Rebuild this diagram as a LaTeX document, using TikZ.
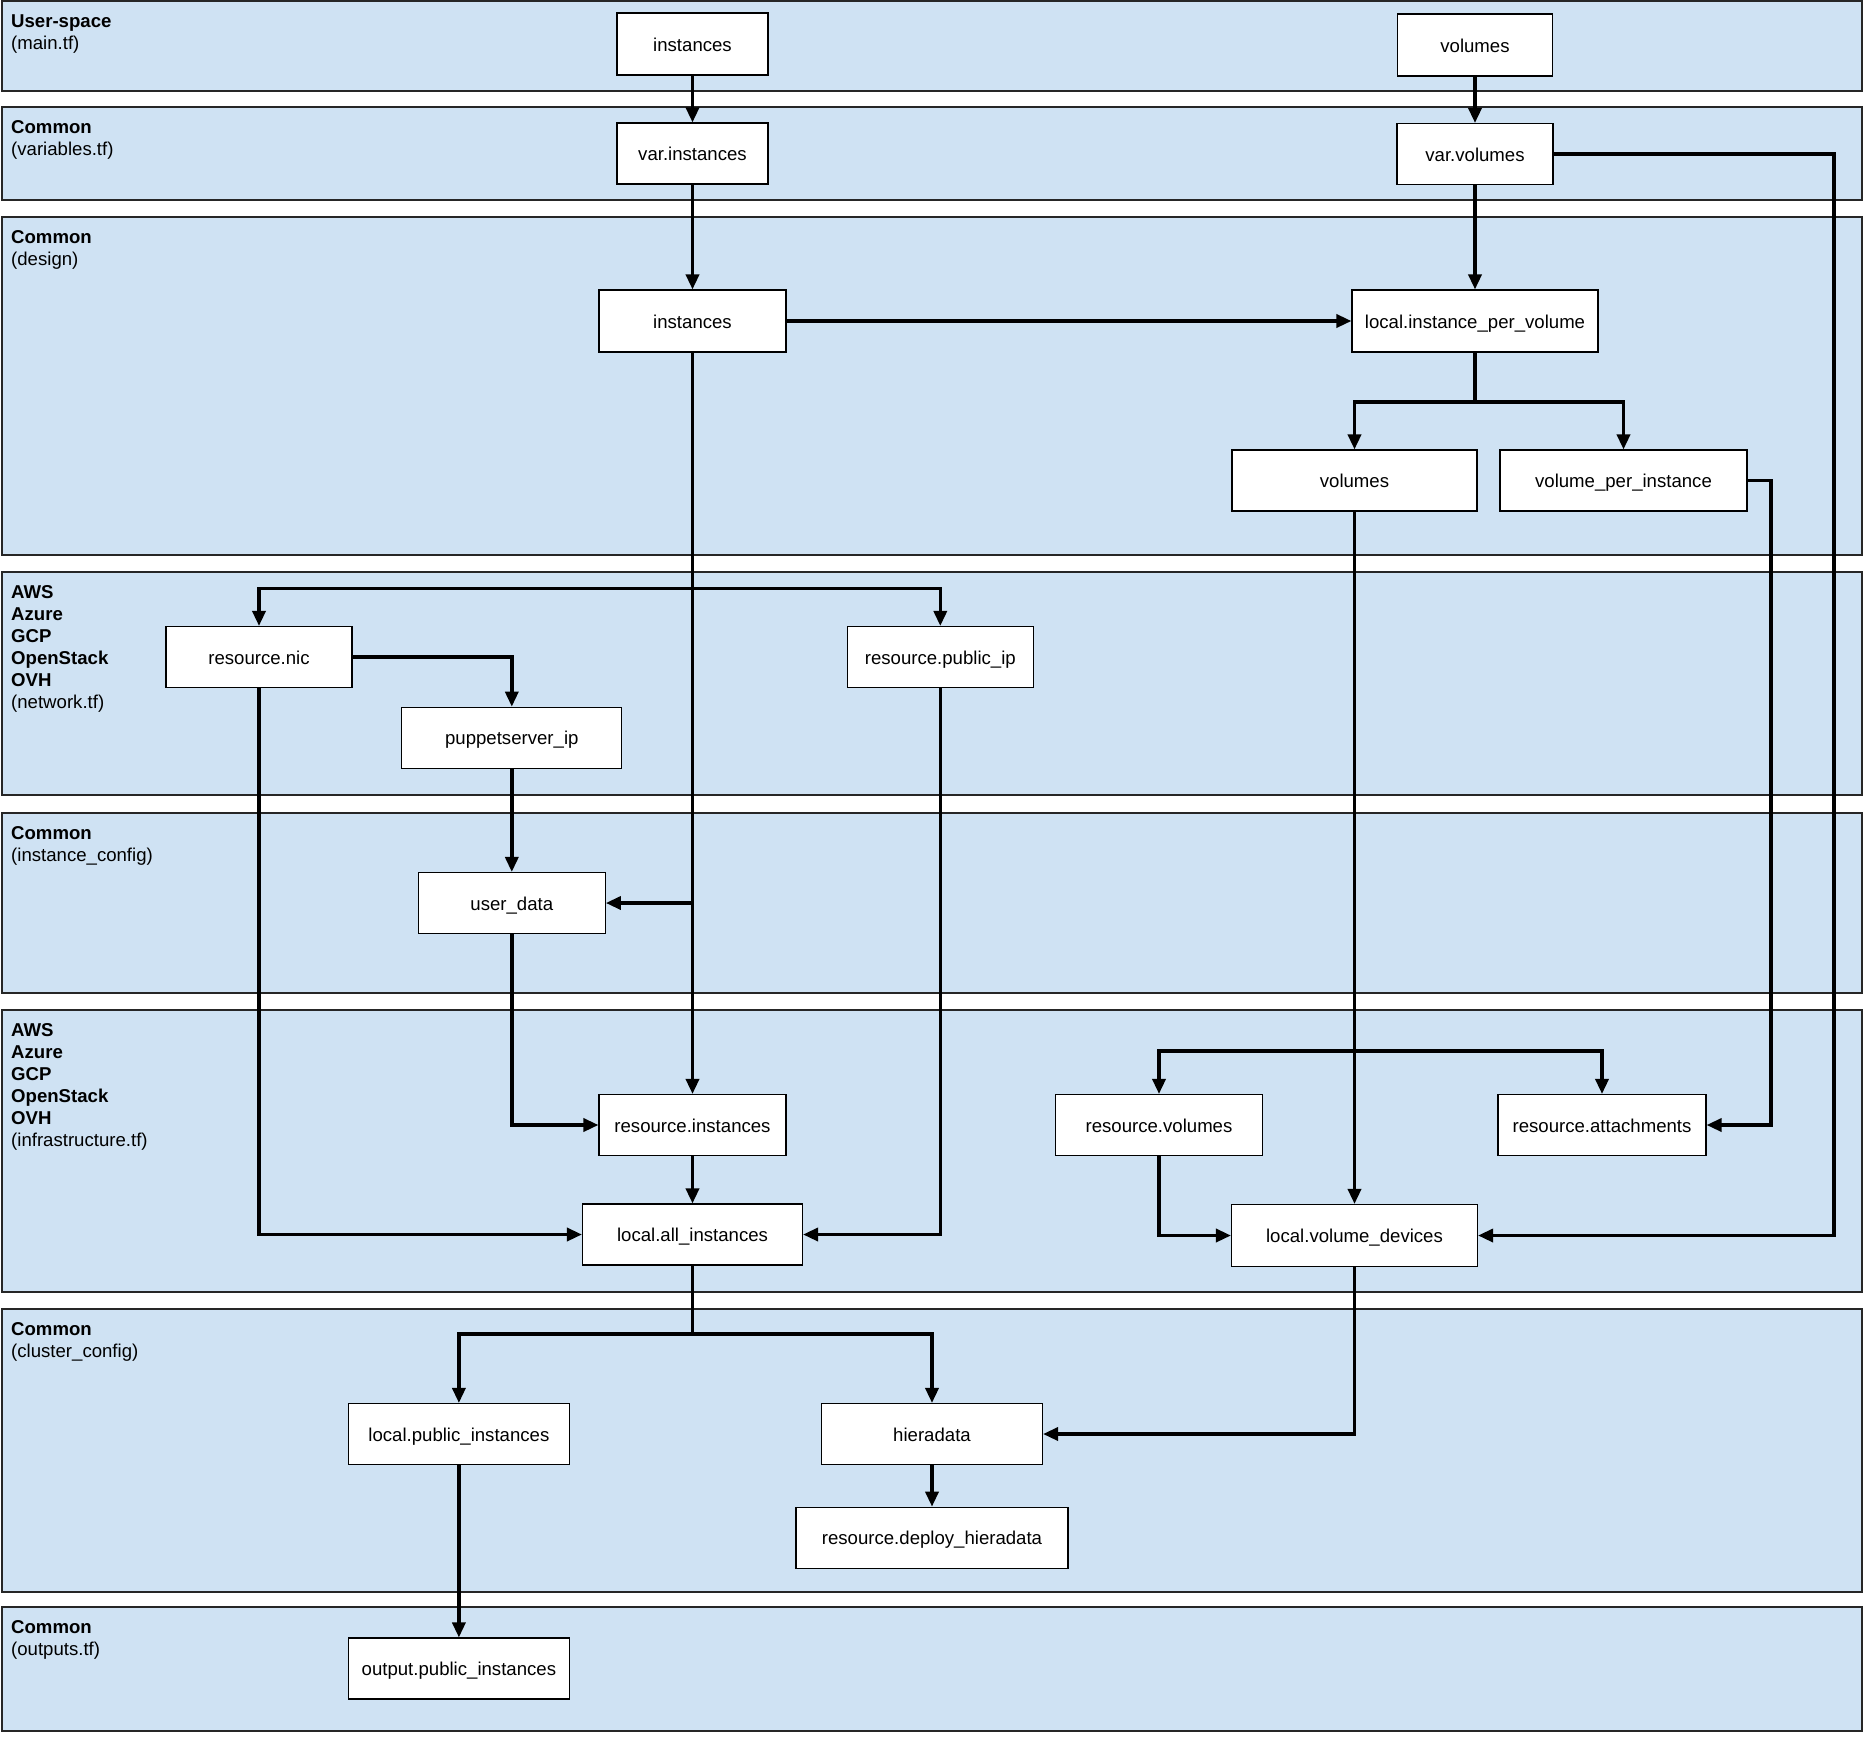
\documentclass[tikz,border=0pt]{standalone}
\usepackage{fontspec}
\setmainfont{Liberation Sans}
\usetikzlibrary{arrows.meta}
\definecolor{bandblue}{RGB}{207,226,243}
\newcommand{\nodefnt}{\fontsize{18.6}{22}\selectfont}
\newcommand{\lblfnt}{\fontsize{18.6}{22}\selectfont}
\begin{document}
\begin{tikzpicture}[x=1pt,y=-1pt,
  band/.style={draw=black!85, line width=1.3pt, fill=bandblue},
  box/.style={draw=black, line width=1.1pt, fill=white, inner sep=0pt, font=\nodefnt, text height=19pt, text depth=4.6pt},
  arr/.style={line width=3.4pt, -{Triangle[length=15pt,width=13pt]}},
  lbl/.style={anchor=north west, inner sep=0pt, align=left, font=\lblfnt}]
\useasboundingbox (0,0) rectangle (1864,1738);
\fill[white] (0,0) rectangle (1864,1738);
% bands
\draw[band] (2,1) rectangle (1862,91);
\draw[band] (2,107) rectangle (1862,200);
\draw[band] (2,217) rectangle (1862,555);
\draw[band] (2,572) rectangle (1862,795);
\draw[band] (2,813) rectangle (1862,993);
\draw[band] (2,1010) rectangle (1862,1292);
\draw[band] (2,1309) rectangle (1862,1592);
\draw[band] (2,1607) rectangle (1862,1731);
% band labels
\node[lbl] (L1) at (11,11.5) {\textbf{\strut User-space}\\(main.tf)};
\node[lbl] (L2) at (11,117.5) {\textbf{\strut Common}\\(variables.tf)};
\node[lbl] (L3) at (11,227.5) {\textbf{\strut Common}\\(design)};
\node[lbl] (L4) at (11,582.5) {\textbf{\strut AWS}\\\textbf{Azure}\\\textbf{GCP}\\\textbf{OpenStack}\\\textbf{OVH}\\(network.tf)};
\node[lbl] (L5) at (11,823.5) {\textbf{\strut Common}\\(instance\_config)};
\node[lbl] (L6) at (11,1020.5) {\textbf{\strut AWS}\\\textbf{Azure}\\\textbf{GCP}\\\textbf{OpenStack}\\\textbf{OVH}\\(infrastructure.tf)};
\node[lbl] (L7) at (11,1319.5) {\textbf{\strut Common}\\(cluster\_config)};
\node[lbl] (L8) at (11,1617.5) {\textbf{\strut Common}\\(outputs.tf)};
% nodes
\node[box, minimum width=151pt, minimum height=62pt] (inst0) at (692.5,44) {instances};
\node[box, minimum width=155pt, minimum height=62pt] (vol0) at (1475,45) {volumes};
\node[box, minimum width=151pt, minimum height=61pt] (varinst) at (692.5,153.5) {var.instances};
\node[box, minimum width=156pt, minimum height=61pt] (varvol) at (1475,154) {var.volumes};
\node[box, minimum width=187pt, minimum height=62pt] (inst1) at (692.5,321) {instances};
\node[box, minimum width=246pt, minimum height=62pt] (lipv) at (1475,321) {local.instance\_per\_volume};
\node[box, minimum width=245pt, minimum height=61pt] (vol1) at (1354.5,480.5) {volumes};
\node[box, minimum width=247pt, minimum height=61pt] (vpi) at (1623.5,480.5) {volume\_per\_instance};
\node[box, minimum width=186pt, minimum height=61pt] (nic) at (259,657) {resource.nic};
\node[box, minimum width=186pt, minimum height=61pt] (pubip) at (940.3,657) {resource.public\_ip};
\node[box, minimum width=220pt, minimum height=61pt] (pip) at (511.8,737.7) {puppetserver\_ip};
\node[box, minimum width=187pt, minimum height=61pt] (udata) at (511.8,903) {user\_data};
\node[box, minimum width=187pt, minimum height=61pt] (rinst) at (692.5,1125) {resource.instances};
\node[box, minimum width=207pt, minimum height=61pt] (rvol) at (1159,1125) {resource.volumes};
\node[box, minimum width=208pt, minimum height=61pt] (ratt) at (1602,1125) {resource.attachments};
\node[box, minimum width=220pt, minimum height=61pt] (lall) at (692.5,1234.5) {local.all\_instances};
\node[box, minimum width=246pt, minimum height=62pt] (lvd) at (1354.5,1235.5) {local.volume\_devices};
\node[box, minimum width=221pt, minimum height=61pt] (lpub) at (458.9,1434) {local.public\_instances};
\node[box, minimum width=221pt, minimum height=61pt] (hiera) at (932,1434) {hieradata};
\node[box, minimum width=272pt, minimum height=61pt] (rdh) at (932,1537.7) {resource.deploy\_hieradata};
\node[box, minimum width=221pt, minimum height=61pt] (outpub) at (458.9,1668.5) {output.public\_instances};
% helper coordinates
\coordinate (bA) at (1475,402);
\coordinate (cR1) at (1834,154);
\coordinate (cR2) at (1771,480.5);
\coordinate (bV) at (1354.5,1051);
\coordinate (bI) at (692.5,588.4);
\coordinate (bU) at (692.5,903);
\coordinate (bL) at (692.5,1334);
% edges
\draw[arr] (inst0) -- (varinst);
\draw[arr] (vol0) -- (varvol);
\draw[arr] (varinst) -- (inst1);
\draw[arr] (varvol) -- (lipv);
\draw[arr] (inst1) -- (lipv);
\draw[arr] (lipv) -- (bA) -| (vol1);
\draw[arr] (lipv) -- (bA) -| (vpi);
\draw[arr] (varvol) -- (cR1) |- (lvd);
\draw[arr] (vpi) -- (cR2) |- (ratt);
\draw[arr] (vol1) -- (lvd);
\draw[arr] (vol1) -- (bV) -| (rvol);
\draw[arr] (vol1) -- (bV) -| (ratt);
\draw[arr] (rvol) |- (lvd);
\draw[arr] (inst1) -- (rinst);
\draw[arr] (inst1) -- (bI) -| (nic);
\draw[arr] (inst1) -- (bI) -| (pubip);
\draw[arr] (inst1) -- (bU) -- (udata);
\draw[arr] (nic) -| (pip);
\draw[arr] (pip) -- (udata);
\draw[arr] (udata) |- (rinst);
\draw[arr] (nic) |- (lall);
\draw[arr] (pubip) |- (lall);
\draw[arr] (rinst) -- (lall);
\draw[arr] (lall) -- (bL) -| (lpub);
\draw[arr] (lall) -- (bL) -| (hiera);
\draw[arr] (lvd) |- (hiera);
\draw[arr] (hiera) -- (rdh);
\draw[arr] (lpub) -- (outpub);
\end{tikzpicture}
\end{document}
